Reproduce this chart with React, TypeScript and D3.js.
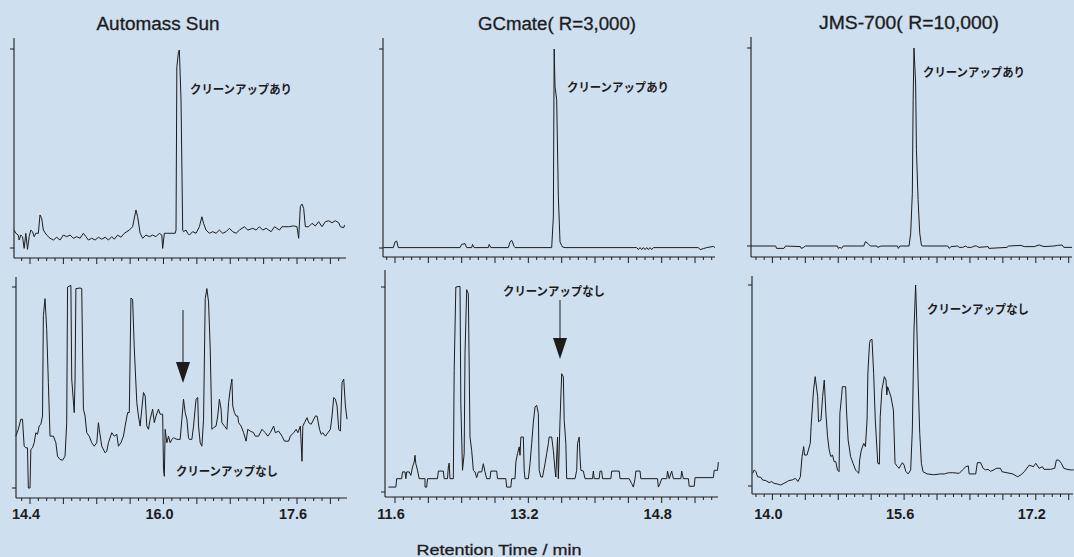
import React from "react";
import * as d3 from "d3";

type Pt = [number, number];

// ---- Data: [retention time (min), relative intensity (%)] ----
const sunClean: Pt[] = [[14.21,9.0],[14.23,7.4],[14.26,6.5],[14.27,4.0],[14.29,6.5],[14.31,5.7],[14.33,-0.2],[14.35,7.4],[14.37,-0.7],[14.39,5.7],[14.41,9.0],[14.43,8.2],[14.45,5.7],[14.47,7.4],[14.50,7.4],[14.52,16.6],[14.54,14.9],[14.56,9.0],[14.60,6.5],[14.64,4.9],[14.68,4.0],[14.72,5.4],[14.76,4.0],[14.80,6.5],[14.84,5.7],[14.88,6.5],[14.92,4.9],[14.96,5.7],[15.00,4.9],[15.04,7.4],[15.07,5.7],[15.10,4.0],[15.14,4.9],[15.18,4.0],[15.22,5.4],[15.26,4.4],[15.30,5.4],[15.34,4.0],[15.38,5.7],[15.41,4.4],[15.45,6.5],[15.49,5.4],[15.53,7.4],[15.59,9.0],[15.63,10.7],[15.67,19.1],[15.69,15.7],[15.72,7.4],[15.75,4.9],[15.79,6.5],[15.83,5.7],[15.87,6.5],[15.91,5.7],[15.95,7.4],[15.98,6.5],[15.99,-0.2],[16.01,7.4],[16.05,7.4],[16.14,7.4],[16.15,9.0],[16.16,91.1],[16.18,98.7],[16.19,99.5],[16.21,74.4],[16.23,9.0],[16.24,8.2],[16.27,9.0],[16.29,7.4],[16.31,6.5],[16.35,8.2],[16.39,7.4],[16.43,10.7],[16.46,15.7],[16.48,12.4],[16.51,9.0],[16.55,7.4],[16.59,8.2],[16.63,7.4],[16.67,9.0],[16.71,7.4],[16.75,8.2],[16.79,9.9],[16.83,8.2],[16.87,7.4],[16.91,9.0],[16.97,10.7],[17.01,9.0],[17.07,9.9],[17.11,9.0],[17.15,10.7],[17.19,9.0],[17.23,9.9],[17.29,8.2],[17.33,10.7],[17.39,9.0],[17.42,10.7],[17.50,10.7],[17.56,11.1],[17.60,10.7],[17.62,4.9],[17.64,20.8],[17.66,22.1],[17.68,19.9],[17.70,10.7],[17.74,10.7],[17.78,12.4],[17.82,11.1],[17.86,13.2],[17.90,10.7],[17.94,13.2],[17.98,13.7],[18.02,12.7],[18.06,13.7],[18.10,12.7],[18.12,10.7],[18.16,10.2],[18.17,11.6]];

const sunRaw: Pt[] = [[14.23,25.8],[14.26,29.2],[14.29,34.2],[14.31,34.2],[14.33,20.8],[14.35,20.0],[14.37,20.0],[14.38,0],[14.40,0],[14.41,19.2],[14.43,20.0],[14.45,22.5],[14.47,27.5],[14.49,26.7],[14.51,30.8],[14.53,31.7],[14.55,35.8],[14.56,85.8],[14.58,94.2],[14.60,79.2],[14.62,52.5],[14.64,25.8],[14.68,25.8],[14.71,22.5],[14.73,15.8],[14.76,14.2],[14.79,13.8],[14.82,15.8],[14.84,32.5],[14.85,100],[14.89,100.8],[14.90,54.2],[14.93,37.5],[14.94,54.2],[14.95,99.2],[15.00,99.5],[15.02,99.2],[15.04,39.2],[15.06,35.8],[15.08,27.5],[15.11,25.8],[15.14,22.5],[15.17,20.8],[15.20,22.5],[15.22,32.5],[15.23,29.2],[15.26,20.8],[15.30,17.5],[15.32,18.3],[15.34,22.5],[15.38,27.5],[15.41,25.8],[15.44,26.7],[15.46,20.8],[15.49,22.5],[15.52,25.8],[15.54,30.8],[15.57,37.5],[15.59,37.5],[15.61,94.5],[15.63,93.8],[15.65,69.2],[15.68,42.5],[15.70,35.8],[15.72,30.8],[15.74,39.2],[15.76,47.5],[15.78,45.8],[15.80,30.8],[15.82,29.2],[15.84,34.2],[15.87,39.2],[15.89,32.5],[15.91,35.8],[15.94,39.2],[15.96,36.7],[15.99,36.7],[16.00,9.2],[16.01,5.8],[16.02,29.2],[16.04,22.5],[16.06,25.8],[16.08,22.5],[16.10,24.2],[16.12,25.0],[16.16,24.2],[16.20,24.2],[16.22,34.2],[16.24,44.2],[16.26,37.5],[16.28,34.2],[16.30,25.0],[16.31,24.2],[16.34,24.2],[16.36,30.8],[16.39,44.2],[16.41,45.0],[16.42,30.8],[16.44,22.5],[16.46,20.8],[16.48,34.2],[16.50,94.2],[16.52,99.2],[16.54,92.5],[16.56,69.2],[16.58,29.2],[16.60,30.0],[16.63,30.8],[16.65,35.8],[16.67,44.2],[16.69,39.2],[16.70,32.5],[16.73,30.8],[16.76,29.2],[16.78,42.5],[16.80,49.2],[16.82,54.2],[16.83,40.8],[16.85,37.5],[16.87,35.8],[16.89,35.8],[16.90,32.5],[16.93,30.8],[16.96,27.5],[16.99,23.3],[17.01,29.2],[17.04,28.3],[17.08,27.5],[17.10,25.8],[17.14,25.8],[17.18,29.2],[17.22,27.5],[17.25,25.8],[17.28,27.5],[17.32,30.8],[17.34,27.5],[17.38,28.3],[17.42,25.8],[17.45,23.3],[17.50,23.3],[17.52,25.8],[17.56,27.5],[17.59,29.2],[17.61,27.5],[17.64,30.8],[17.66,13.3],[17.67,30.8],[17.69,32.5],[17.72,35.0],[17.74,32.5],[17.77,31.7],[17.79,33.3],[17.82,35.8],[17.84,35.8],[17.87,29.2],[17.89,26.7],[17.91,27.5],[17.94,25.8],[17.97,27.5],[18.00,29.2],[18.02,35.8],[18.04,45.0],[18.06,44.2],[18.08,40.8],[18.10,29.2],[18.12,28.3],[18.14,52.5],[18.16,54.2],[18.18,40.8],[18.20,34.2]];

const gcClean: Pt[] = [[11.46,0.2],[11.58,0.2],[11.60,3.0],[11.62,3.5],[11.64,0.2],[12.38,0.2],[12.40,1.8],[12.44,2.2],[12.46,0.2],[12.52,0.2],[12.53,1.8],[12.55,0.2],[12.72,0.2],[12.73,1.8],[12.75,0.2],[12.96,0.2],[12.98,3.0],[13.00,3.9],[13.03,0.8],[13.04,0.2],[13.48,0.2],[13.50,15.6],[13.51,100],[13.52,81.2],[13.54,74.5],[13.56,25.7],[13.58,3.0],[13.60,1.3],[13.61,0.5],[13.64,0.2],[14.50,0.2],[14.52,-0.8],[14.54,0.2],[14.56,-0.8],[14.58,0.2],[14.60,-0.8],[14.62,0.2],[14.64,-0.8],[14.66,0.2],[14.68,-0.8],[14.70,0.2],[15.24,0.2],[15.26,-0.8],[15.30,-0.3],[15.34,0.2],[15.38,0.5],[15.42,0.8],[15.44,0.2]];

const gcRaw: Pt[] = [[11.52,2.4],[11.61,2.4],[11.62,6.5],[11.68,6.5],[11.69,9.8],[11.72,9.8],[11.73,6.5],[11.74,9.8],[11.77,9.8],[11.79,8.1],[11.81,12.2],[11.83,14.6],[11.84,17.9],[11.85,13.8],[11.87,10.6],[11.89,6.5],[11.96,6.5],[11.96,2.4],[11.98,2.4],[11.99,6.5],[12.11,6.5],[12.12,10.2],[12.18,10.2],[12.19,6.5],[12.23,6.5],[12.24,12.2],[12.25,14.1],[12.26,6.5],[12.30,6.5],[12.31,59.3],[12.33,100],[12.38,100.3],[12.39,43.1],[12.41,10.6],[12.43,18.7],[12.44,67.5],[12.46,98.7],[12.48,96.7],[12.50,26.8],[12.52,20.3],[12.54,10.6],[12.56,9.8],[12.58,7.0],[12.60,9.8],[12.62,9.8],[12.64,9.8],[12.66,13.8],[12.68,9.8],[12.70,6.5],[12.74,6.5],[12.75,10.2],[12.82,10.2],[12.83,6.5],[12.93,6.5],[12.94,2.4],[12.99,2.4],[13.00,6.5],[13.04,6.5],[13.05,14.6],[13.07,18.7],[13.09,22.0],[13.10,17.9],[13.11,26.8],[13.14,26.8],[13.15,10.6],[13.16,6.5],[13.20,6.5],[13.22,13.8],[13.24,23.6],[13.26,34.1],[13.28,41.5],[13.30,42.3],[13.32,38.2],[13.33,10.6],[13.35,7.3],[13.37,7.3],[13.40,13.8],[13.42,18.7],[13.44,23.6],[13.45,26.8],[13.48,26.8],[13.50,20.3],[13.52,10.6],[13.53,7.3],[13.55,26.8],[13.56,6.5],[13.58,35.0],[13.60,57.7],[13.62,56.1],[13.63,35.0],[13.65,23.6],[13.66,6.5],[13.76,6.5],[13.78,10.6],[13.79,23.6],[13.81,26.8],[13.82,17.1],[13.83,10.6],[13.86,10.2],[13.88,6.5],[13.97,6.5],[13.98,10.2],[13.99,6.5],[14.05,6.5],[14.06,10.2],[14.08,10.2],[14.09,6.5],[14.19,6.5],[14.20,10.2],[14.29,10.2],[14.30,6.5],[14.41,6.5],[14.44,4.1],[14.46,2.4],[14.48,6.5],[14.49,10.2],[14.54,10.2],[14.55,6.5],[14.75,6.5],[14.76,2.4],[14.78,4.1],[14.80,6.5],[14.86,6.5],[14.87,10.2],[14.89,6.5],[14.92,10.2],[14.94,6.5],[15.03,6.5],[15.04,10.2],[15.06,6.5],[15.12,6.5],[15.13,2.8],[15.19,2.8],[15.20,7.0],[15.42,7.0],[15.43,10.6],[15.47,10.6],[15.48,14.6]];

const jmsClean: Pt[] = [[13.74,0],[14.04,0],[14.05,-1.2],[14.14,-1.2],[14.16,0],[14.34,-0.3],[14.35,-1.2],[14.38,-0.7],[14.40,0],[14.79,0],[14.80,-1.2],[14.82,-0.7],[14.84,-1.2],[14.86,0],[15.11,0],[15.13,2.2],[15.16,1.3],[15.19,0],[15.27,0],[15.28,-0.7],[15.32,0],[15.52,0],[15.53,-1.2],[15.55,0],[15.66,0],[15.68,6.4],[15.70,26.6],[15.71,73.9],[15.72,100],[15.74,82.3],[15.75,48.6],[15.77,23.3],[15.79,6.4],[15.81,0.5],[15.82,0],[16.13,0],[16.15,-1.2],[16.17,-0.3],[16.25,0],[16.27,-0.7],[16.31,-0.7],[16.35,0],[16.37,-0.7],[16.42,-0.7],[16.45,0],[16.48,0],[16.51,-0.7],[16.62,-0.3],[16.63,-1.2],[16.85,-0.7],[16.87,0],[17.02,0.3],[17.06,-0.3],[17.18,-0.3],[17.24,0.5],[17.30,-0.3],[17.42,0],[17.46,0.3],[17.52,0.5],[17.54,-0.7],[17.64,-0.7]];

const jmsRaw: Pt[] = [[13.76,6.3],[13.78,8.0],[13.80,7.1],[13.82,4.6],[13.86,4.3],[13.88,3.0],[13.92,2.7],[13.96,1.7],[13.99,2.2],[14.02,1.3],[14.06,1.0],[14.10,0.5],[14.14,1.3],[14.18,2.2],[14.20,2.7],[14.24,3.0],[14.28,3.8],[14.31,2.2],[14.34,4.6],[14.36,14.6],[14.38,19.6],[14.39,15.4],[14.42,15.4],[14.46,21.2],[14.47,29.5],[14.50,47.8],[14.52,54.4],[14.55,44.4],[14.56,32.0],[14.59,32.8],[14.61,44.4],[14.63,52.7],[14.65,36.2],[14.67,24.5],[14.69,17.9],[14.71,14.6],[14.73,15.4],[14.75,12.1],[14.77,12.1],[14.79,8.0],[14.81,7.1],[14.82,36.2],[14.84,44.4],[14.85,49.4],[14.89,49.4],[14.90,37.8],[14.92,22.9],[14.95,14.6],[14.98,11.3],[15.01,8.0],[15.03,7.1],[15.05,6.3],[15.06,12.9],[15.08,17.9],[15.11,21.2],[15.13,19.6],[15.15,32.8],[15.16,56.1],[15.18,71.0],[15.19,72.6],[15.21,73.0],[15.23,56.1],[15.25,32.8],[15.28,11.3],[15.30,10.9],[15.31,34.5],[15.33,47.8],[15.36,54.4],[15.38,52.7],[15.39,45.3],[15.40,49.4],[15.44,44.4],[15.47,37.8],[15.49,11.3],[15.52,9.6],[15.54,8.8],[15.56,10.4],[15.58,11.6],[15.60,10.4],[15.62,7.3],[15.65,6.0],[15.68,8.0],[15.70,27.9],[15.72,77.6],[15.74,100],[15.75,87.6],[15.77,52.7],[15.79,26.2],[15.81,11.3],[15.83,7.1],[15.88,6.0],[15.96,5.6],[16.04,6.0],[16.09,6.0],[16.11,6.3],[16.15,6.6],[16.19,6.6],[16.27,6.3],[16.31,8.0],[16.35,9.6],[16.38,10.0],[16.39,6.0],[16.47,6.0],[16.49,11.6],[16.53,11.6],[16.56,8.8],[16.59,8.0],[16.62,8.3],[16.65,7.3],[16.69,8.0],[16.72,8.8],[16.77,8.8],[16.79,7.1],[16.85,6.6],[16.92,6.0],[16.98,4.6],[17.02,5.6],[17.06,7.1],[17.12,10.4],[17.17,9.6],[17.20,11.3],[17.24,8.8],[17.28,9.6],[17.30,8.3],[17.38,8.3],[17.43,8.8],[17.45,12.9],[17.48,12.9],[17.51,11.3],[17.54,8.8],[17.58,8.3],[17.62,8.0],[17.66,8.0]];

const titles = ["Automass Sun", "GCmate( R=3,000)", "JMS-700( R=10,000)"];
const sunTickLabels = [14.4, 16.0, 17.6];
const gcTickLabels = [11.6, 13.2, 14.8];
const jmsTickLabels = [14.0, 15.6, 17.2];
const labelClean = "クリーンアップあり";
const labelRaw = "クリーンアップなし";
const xAxisTitle = "Retention Time / min";

// ---- Layout (pixels) ----
const W = 1074, H = 557;
const BG = "rgb(206,223,240)";
const INK = "#1c1c1c";

type Spec = {
  data: Pt[]; tickLabels: number[] | null;
  xDom: [number, number]; xRange: [number, number];
  axisX: number; axisTop: number; axisY: number; axisEnd: number;
  yZero: number; yFull: number;
  note: { text: string; x: number; y: number };
  arrow?: { x: number; y0: number; y1: number; tip: number };
};

const specs: Spec[] = [
  { data: sunClean, tickLabels: null, xDom: [14.4, 17.6], xRange: [30, 297], axisX: 14, axisTop: 38, axisY: 258, axisEnd: 346, yZero: 248, yFull: 49, note: { text: labelClean, x: 190, y: 94 } },
  { data: sunRaw, tickLabels: sunTickLabels, xDom: [14.4, 17.6], xRange: [30, 297], axisX: 16, axisTop: 277, axisY: 498, axisEnd: 347, yZero: 488, yFull: 287, note: { text: labelRaw, x: 176, y: 476 }, arrow: { x: 183, y0: 310, y1: 362, tip: 383 } },
  { data: gcClean, tickLabels: null, xDom: [11.6, 14.8], xRange: [395, 661.7], axisX: 383, axisTop: 38, axisY: 257, axisEnd: 715, yZero: 248, yFull: 49, note: { text: labelClean, x: 567, y: 92 } },
  { data: gcRaw, tickLabels: gcTickLabels, xDom: [11.6, 14.8], xRange: [395, 661.7], axisX: 385, axisTop: 270, axisY: 497, axisEnd: 718, yZero: 492, yFull: 287, note: { text: labelRaw, x: 503, y: 296 }, arrow: { x: 560, y0: 300, y1: 338, tip: 359 } },
  { data: jmsClean, tickLabels: null, xDom: [14.0, 17.2], xRange: [772.4, 1035.8], axisX: 751, axisTop: 37, axisY: 257, axisEnd: 1072, yZero: 246, yFull: 48, note: { text: labelClean, x: 923, y: 77 } },
  { data: jmsRaw, tickLabels: jmsTickLabels, xDom: [14.0, 17.2], xRange: [772.4, 1035.8], axisX: 752, axisTop: 276, axisY: 494, axisEnd: 1073, yZero: 486, yFull: 285, note: { text: labelRaw, x: 927, y: 314 } },
];

const titlePos = [{ x: 158, y: 30, w: 123 }, { x: 557, y: 30, w: 158 }, { x: 909, y: 29, w: 180 }];

function Panel({ s }: { s: Spec }) {
  const x = d3.scaleLinear().domain(s.xDom).range(s.xRange);
  const y = d3.scaleLinear().domain([0, 100]).range([s.yZero, s.yFull]);
  const line = d3.line<Pt>().x((d) => x(d[0])).y((d) => y(d[1]));
  const tMin = x.invert(s.axisX + 2);
  const tMax = x.invert(s.axisEnd);
  const ticks: { t: number; major: boolean }[] = [];
  for (let k = Math.ceil(tMin * 10); k <= Math.floor(tMax * 10); k++) {
    ticks.push({ t: k / 10, major: k % 4 === 0 });
  }
  return (
    <g>
      <path d={line(s.data) || ""} fill="none" stroke={INK} strokeWidth={1} strokeLinejoin="round" />
      <line x1={s.axisX} x2={s.axisX} y1={s.axisTop} y2={s.axisY} stroke={INK} strokeWidth={1.1} />
      <line x1={s.axisX} x2={s.axisEnd} y1={s.axisY} y2={s.axisY} stroke={INK} strokeWidth={1.1} />
      {[0, 100].map((v) => (
        <line key={v} x1={s.axisX - 4} x2={s.axisX} y1={y(v)} y2={y(v)} stroke={INK} strokeWidth={1} />
      ))}
      {ticks.map((tk) => (
        <line key={tk.t} x1={x(tk.t)} x2={x(tk.t)} y1={s.axisY} y2={s.axisY + (tk.major ? 6 : 3)} stroke={INK} strokeWidth={1} />
      ))}
      {s.tickLabels &&
        s.tickLabels.map((t) => (
          <text key={t} x={x(t) - 4} y={519} textAnchor="middle" fontFamily="Liberation Sans, Arial, sans-serif" fontWeight="bold" fontSize={14.5} fill={INK}>
            {t.toFixed(1)}
          </text>
        ))}
      <text x={s.note.x} y={s.note.y} fontFamily="Noto Sans CJK JP, sans-serif" fontWeight={700} fontSize={12} textLength={102} lengthAdjust="spacingAndGlyphs" fill={INK}>
        {s.note.text}
      </text>
      {s.arrow && (
        <g>
          <line x1={s.arrow.x} x2={s.arrow.x} y1={s.arrow.y0} y2={s.arrow.y1} stroke={INK} strokeWidth={1} />
          <path d={`M${s.arrow.x - 7},${s.arrow.y1} L${s.arrow.x + 7},${s.arrow.y1} L${s.arrow.x},${s.arrow.tip} Z`} fill={INK} />
        </g>
      )}
    </g>
  );
}

export default function App() {
  return (
    <svg width={W} height={H} style={{ position: "absolute", left: 0, top: 0, display: "block" }}>
      <rect x={0} y={0} width={W} height={H} fill={BG} />
      {titles.map((t, i) => (
        <text key={t} x={titlePos[i].x} y={titlePos[i].y} textAnchor="middle" fontFamily="Liberation Sans, Arial, sans-serif" fontSize={18} textLength={titlePos[i].w} lengthAdjust="spacingAndGlyphs" fill={INK} stroke={INK} strokeWidth={0.3}>
          {t}
        </text>
      ))}
      {specs.map((s, i) => (
        <Panel key={i} s={s} />
      ))}
      <text x={499} y={555} textAnchor="middle" fontFamily="Liberation Sans, Arial, sans-serif" fontSize={15.5} textLength={165} lengthAdjust="spacingAndGlyphs" fill={INK} stroke={INK} strokeWidth={0.3}>
        {xAxisTitle}
      </text>
    </svg>
  );
}
